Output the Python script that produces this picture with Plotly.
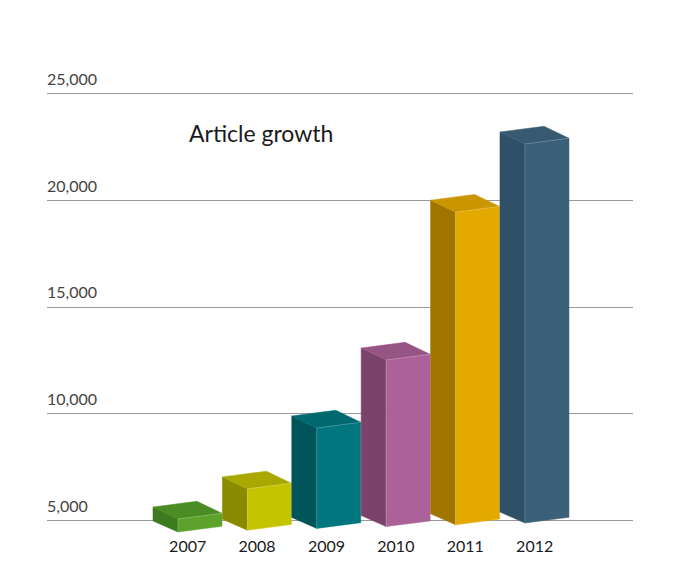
import plotly.graph_objects as go

years = ["2007", "2008", "2009", "2010", "2011", "2012"]
articles = [5640, 7050, 9900, 13080, 20000, 23190]
front_colors = ["#5DA22A", "#C5C400", "#00767E", "#AC6299", "#E3A900", "#3B6079"]
side_colors = ["#3E7B1E", "#8A8A00", "#00545A", "#7B4369", "#9F7500", "#2F5066"]
top_colors = ["#4B8C25", "#A9A800", "#00686F", "#975586", "#CB9500", "#385A70"]
y_ticks = [5000, 10000, 15000, 20000, 25000]
y_tick_text = ["5,000", "10,000", "15,000", "20,000", "25,000"]

# geometry (pixel-based look converted to axis units)
Y_PER_PX = 20000 / 427.4          # axis units per vertical pixel
X_PER_PX = 1 / 69.4               # axis units per horizontal pixel
DEPTH_X = 25 * X_PER_PX
FRONT_W = 44 * X_PER_PX
DEPTH_Y_TOP = 12 * Y_PER_PX
DEPTH_Y_BOT = 11 * Y_PER_PX
SLOPE = 5.7 * Y_PER_PX
BASE = 5000

fig = go.Figure()
for i, (yr, v) in enumerate(zip(years, articles)):
    xl = i - 0.5                 # back-left x
    xf = xl + DEPTH_X            # front-left x
    xr = xf + FRONT_W            # front-right x
    xbr = xl + FRONT_W           # back-right x
    # front-left bottom drop below baseline (perspective)
    fb = BASE - (11.3 - 1.8 * i) * Y_PER_PX
    top_bl = v
    top_br = v + SLOPE
    top_fl = v - DEPTH_Y_TOP
    top_fr = top_fl + SLOPE
    bot_fl = fb
    bot_fr = fb + SLOPE
    bot_bl = fb + DEPTH_Y_BOT
    # side face
    fig.add_trace(go.Scatter(x=[xl, xf, xf, xl, xl], y=[bot_bl, bot_fl, top_fl, top_bl, bot_bl],
                             fill="toself", fillcolor=side_colors[i], mode="lines",
                             line=dict(color=side_colors[i], width=0.5), hoverinfo="skip",
                             showlegend=False))
    # top face
    fig.add_trace(go.Scatter(x=[xl, xbr, xr, xf, xl], y=[top_bl, top_br, top_fr, top_fl, top_bl],
                             fill="toself", fillcolor=top_colors[i], mode="lines",
                             line=dict(color=top_colors[i], width=0.5), hoverinfo="skip",
                             showlegend=False))
    # front face
    fig.add_trace(go.Scatter(x=[xf, xr, xr, xf, xf], y=[bot_fl, bot_fr, top_fr, top_fl, bot_fl],
                             fill="toself", fillcolor=front_colors[i], mode="lines",
                             line=dict(color=front_colors[i], width=0.5),
                             name=yr, text=[f"{yr}: {v:,}"] * 5, hoverinfo="text",
                             showlegend=False))
    # subtle highlight edges
    fig.add_trace(go.Scatter(x=[xf, xf, xr], y=[bot_fl, top_fl, top_fr], mode="lines",
                             line=dict(color="rgba(255,255,255,0.18)", width=1),
                             hoverinfo="skip", showlegend=False))

fig.update_layout(
    width=688, height=577,
    margin=dict(l=39, r=63, t=42, b=50),
    paper_bgcolor="white", plot_bgcolor="white",
    font=dict(family="Lato, 'Open Sans', sans-serif", color="#1a1a20", size=16),
    xaxis=dict(range=[-2.027, -2.027 + 586 / 69.4], tickmode="array",
               tickvals=list(range(len(years))), ticktext=years,
               showgrid=False, zeroline=False, showline=False, ticks="",
               tickfont=dict(size=16)),
    yaxis=dict(range=[BASE - 14.3 * Y_PER_PX, BASE + 470.7 * Y_PER_PX],
               tickmode="array", tickvals=y_ticks, ticktext=y_tick_text,
               ticklabelposition="inside top", ticklabelshift=-3, ticklabelstandoff=-3,
               showgrid=True, gridcolor="#9a9a9a",
               gridwidth=1, zeroline=False, showline=False, ticks="",
               tickfont=dict(size=16)),
    annotations=[dict(text="Article growth", xref="paper", yref="paper",
                      x=(187 - 47) / 586, y=(535 - 133) / 485, xanchor="left",
                      yanchor="middle", showarrow=False,
                      font=dict(size=23, color="#1a1a20"))],
)

fig.write_html("out.html")
